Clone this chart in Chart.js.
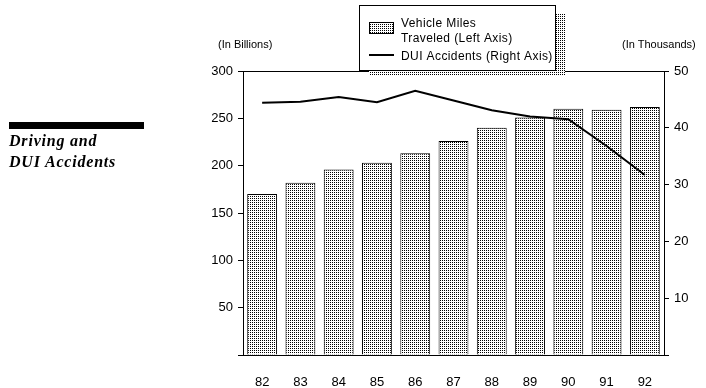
<!DOCTYPE html>
<html>
<head>
<meta charset="utf-8">
<script src="https://cdn.jsdelivr.net/npm/chart.js@4/dist/chart.umd.min.js"></script>
<style>
  html, body { margin: 0; padding: 0; background: #fff; }
  #wrap { position: relative; width: 706px; height: 388px; }
  #chart { position: absolute; left: 0; top: 0; }
  .side-bar { position: absolute; left: 9px; top: 122px; width: 135px; height: 7px; background: #000; }
  .side-title { position: absolute; left: 9px; top: 130px; font: italic bold 16px "Liberation Serif", serif; line-height: 21px; color: #000; letter-spacing: 0.8px; }
  .unit { position: absolute; top: 38px; font: 11px "Liberation Sans", sans-serif; color: #000; }
</style>
</head>
<body>
<div id="wrap">
  <canvas id="chart" width="706" height="388"></canvas>
  <div class="side-bar"></div>
  <div class="side-title">Driving and<br>DUI Accidents</div>
  <div class="unit" style="left:218px">(In Billions)</div>
  <div class="unit" style="left:622px">(In Thousands)</div>
</div>
<script>
// ── Data ─────────────────────────────────────────────────────────────────────
const years = ['82', '83', '84', '85', '86', '87', '88', '89', '90', '91', '92'];
const vehicleMiles = [170, 182, 196, 203, 213, 226, 240, 251, 260, 259, 262];   // billions
const duiAccidents = [44.4, 44.6, 45.4, 44.5, 46.5, 44.8, 43.1, 42.0, 41.5, 36.8, 31.7]; // thousands
const leftTicks = [0, 300, 50];
const rightTicks = [0, 50, 10];

// ── Stipple fill ─────────────────────────────────────────────────────────────
function stipple() {
  const c = document.createElement('canvas');
  c.width = 2; c.height = 2;
  const g = c.getContext('2d');
  g.fillStyle = '#fff';
  g.fillRect(0, 0, 2, 2);
  g.fillStyle = '#000';
  g.fillRect(0, 0, 1, 1);
  return document.getElementById('chart').getContext('2d').createPattern(c, 'repeat');
}
const dots = stipple();

// ── Frame + legend plugin ────────────────────────────────────────────────────
const framePlugin = {
  id: 'frame',
  afterDraw(chart) {
    const { ctx, chartArea: a } = chart;
    ctx.save();
    ctx.strokeStyle = '#000';
    ctx.lineWidth = 1;
    ctx.beginPath();
    ctx.moveTo(a.left, a.top + 0.5);
    ctx.lineTo(a.right, a.top + 0.5);
    ctx.stroke();

    // legend box with stippled shadow
    const x = 359, y = 5, w = 196, h = 65;
    ctx.fillStyle = dots;
    ctx.fillRect(x + 10, y + 9, w, h - 4);
    ctx.fillStyle = '#fff';
    ctx.fillRect(x, y, w, h);
    ctx.strokeRect(x + 0.5, y + 0.5, w, h);

    ctx.fillStyle = dots;
    ctx.fillRect(369, 22, 24, 11);
    ctx.strokeRect(369.5, 22.5, 24, 11);
    ctx.lineWidth = 2;
    ctx.beginPath();
    ctx.moveTo(369, 55);
    ctx.lineTo(394, 55);
    ctx.stroke();

    ctx.fillStyle = '#000';
    ctx.font = '12px "Liberation Sans", sans-serif';
    ctx.letterSpacing = '0.4px';
    ctx.textBaseline = 'alphabetic';
    ctx.fillText('Vehicle Miles', 401, 27);
    ctx.fillText('Traveled (Left Axis)', 401, 42);
    ctx.fillText('DUI Accidents (Right Axis)', 401, 60);
    ctx.restore();
  }
};

const tickFont = { family: '"Liberation Sans", sans-serif', size: 13 };

new Chart(document.getElementById('chart'), {
  type: 'bar',
  data: {
    labels: years,
    datasets: [
      {
        type: 'line',
        label: 'DUI Accidents (Right Axis)',
        data: duiAccidents,
        yAxisID: 'y2',
        borderColor: '#000',
        borderWidth: 2,
        pointRadius: 0,
        tension: 0,
        order: 0,
      },
      {
        label: 'Vehicle Miles Traveled (Left Axis)',
        data: vehicleMiles,
        yAxisID: 'y',
        backgroundColor: dots,
        borderColor: '#000',
        borderWidth: 1,
        categoryPercentage: 1,
        barPercentage: 0.78,
        order: 1,
      }
    ]
  },
  options: {
    responsive: false,
    animation: false,
    layout: { padding: { top: 71, left: 0, right: 0, bottom: 0 } },
    plugins: { legend: { display: false }, tooltip: { enabled: false } },
    scales: {
      x: {
        grid: { display: false },
        border: { display: true, color: '#000', width: 1 },
        ticks: { color: '#000', font: tickFont, padding: 12, maxRotation: 0 },
        afterFit(s) { s.height = 33; }
      },
      y: {
        position: 'left',
        min: leftTicks[0], max: leftTicks[1],
        grid: { drawOnChartArea: false, drawTicks: true, tickLength: 5, color: '#000' },
        border: { display: true, color: '#000', width: 1 },
        ticks: { stepSize: leftTicks[2], color: '#000', font: tickFont, padding: 5,
                 callback: v => v === 0 ? '' : v },
        afterFit(s) { s.width = 243; }
      },
      y2: {
        position: 'right',
        min: rightTicks[0], max: rightTicks[1],
        grid: { drawOnChartArea: false, drawTicks: true, tickLength: 5, color: '#000' },
        border: { display: true, color: '#000', width: 1 },
        ticks: { stepSize: rightTicks[2], color: '#000', font: tickFont, padding: 5,
                 callback: v => v === 0 ? '' : v },
        afterFit(s) { s.width = 42; }
      }
    }
  },
  plugins: [framePlugin]
});
</script>
</body>
</html>
